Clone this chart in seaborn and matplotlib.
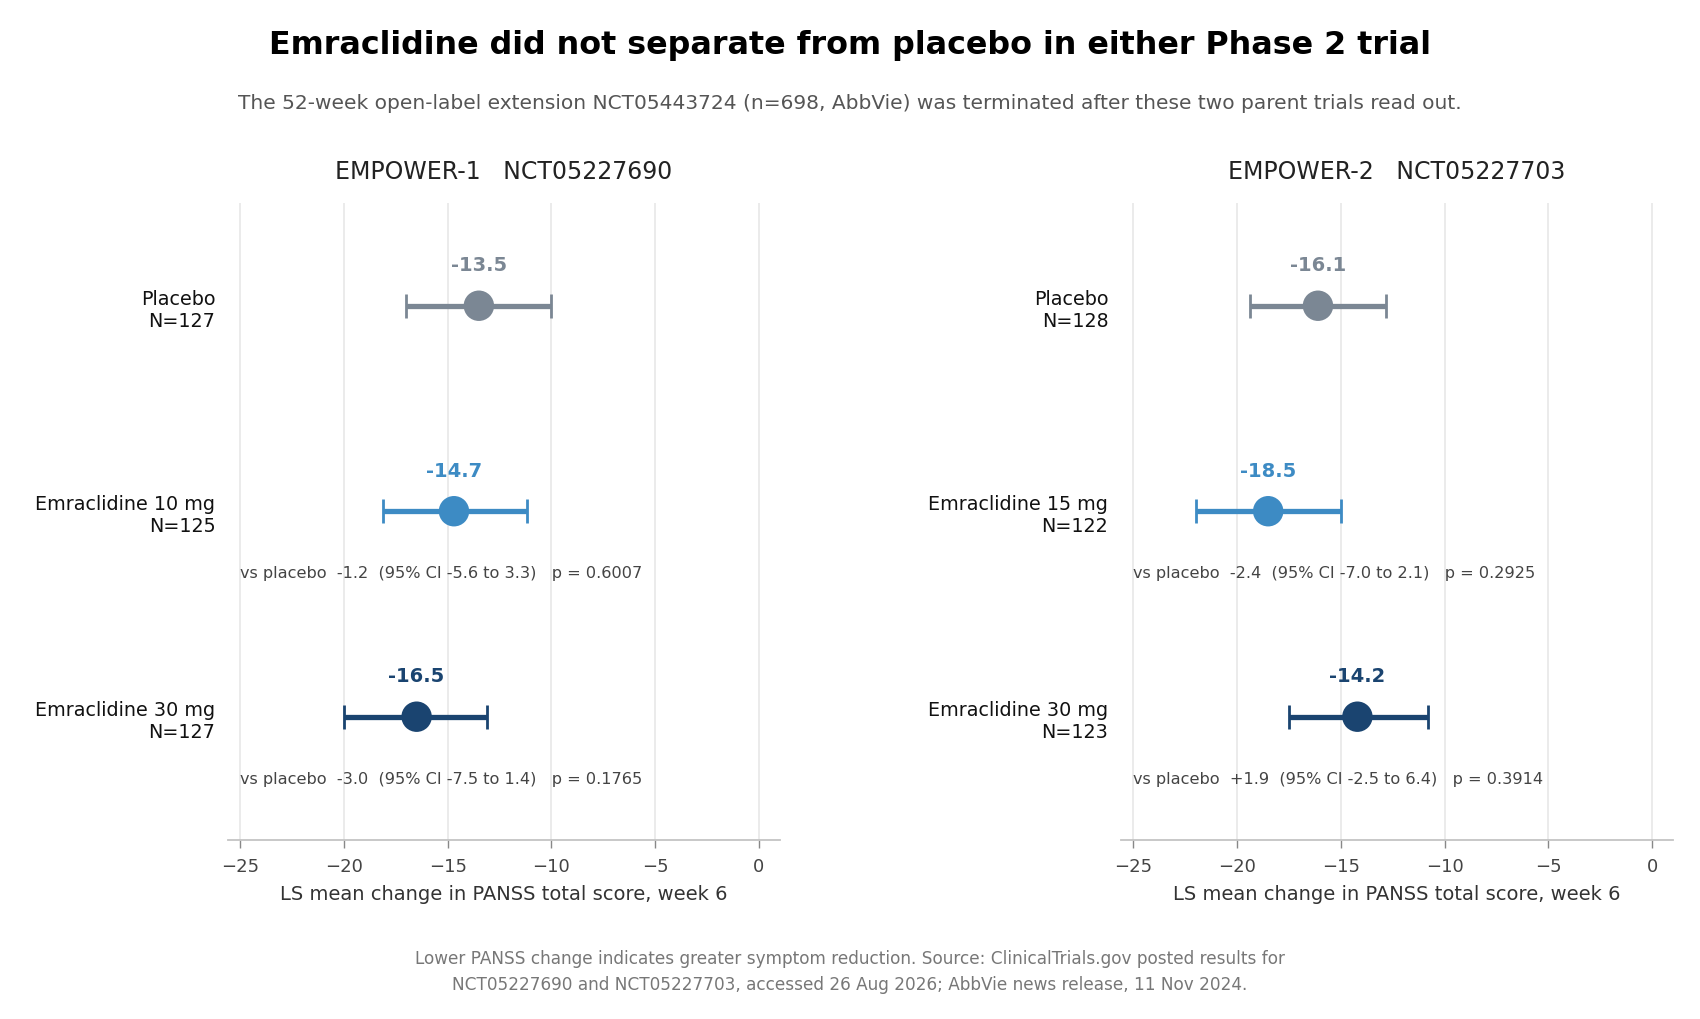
import matplotlib
matplotlib.use("Agg")
import matplotlib.pyplot as plt
import pandas as pd
import seaborn as sns

# Trial metadata
trials = ["EMPOWER-1", "EMPOWER-2"]
nct_ids = ["NCT05227690", "NCT05227703"]

# EMPOWER-1 arms
arms_1 = ["Placebo", "Emraclidine 10 mg", "Emraclidine 30 mg"]
n_1 = [127, 125, 127]
mean_1 = [-13.5, -14.7, -16.5]
ci_lo_1 = [-17.0, -18.1, -20.0]
ci_hi_1 = [-10.0, -11.2, -13.1]
diff_1 = [-1.2, -3.0]
diff_lo_1 = [-5.6, -7.5]
diff_hi_1 = [3.3, 1.4]
p_1 = ["0.6007", "0.1765"]

# EMPOWER-2 arms
arms_2 = ["Placebo", "Emraclidine 15 mg", "Emraclidine 30 mg"]
n_2 = [128, 122, 123]
mean_2 = [-16.1, -18.5, -14.2]
ci_lo_2 = [-19.4, -22.0, -17.5]
ci_hi_2 = [-12.8, -15.0, -10.8]
diff_2 = [-2.4, 1.9]
diff_lo_2 = [-7.0, -2.5]
diff_hi_2 = [2.1, 6.4]
p_2 = ["0.2925", "0.3914"]

arm_colors = ["#7b8794", "#3d8bc4", "#1a4470"]

sns.set_theme(style="whitegrid")
plt.rcParams["font.family"] = ["DejaVu Sans"]

fig, axes = plt.subplots(1, 2, figsize=(17, 10.2), dpi=100)
fig.subplots_adjust(left=0.134, right=0.984, bottom=0.1755, top=0.800, wspace=0.618)

panels = [
    (arms_1, n_1, mean_1, ci_lo_1, ci_hi_1, diff_1, diff_lo_1, diff_hi_1, p_1),
    (arms_2, n_2, mean_2, ci_lo_2, ci_hi_2, diff_2, diff_lo_2, diff_hi_2, p_2),
]

for i, ax in enumerate(axes):
    arms, n, mean, lo, hi, diff, dlo, dhi, pv = panels[i]
    df = pd.DataFrame({"arm": arms, "mean": mean, "lo": lo, "hi": hi, "row": range(len(arms))})

    # confidence intervals
    for j, r in df.iterrows():
        ax.errorbar(r["mean"], r["row"], xerr=[[r["mean"] - r["lo"]], [r["hi"] - r["mean"]]],
                    fmt="none", ecolor=arm_colors[j], elinewidth=3.8, capsize=8.5,
                    capthick=2, zorder=2)

    sns.scatterplot(data=df, x="mean", y="row", hue="arm", palette=arm_colors,
                    s=480, edgecolor="none", legend=False, ax=ax, zorder=3)

    # value labels
    for j, r in df.iterrows():
        ax.text(r["mean"], r["row"] - 0.2, f"{r['mean']:.1f}", ha="center", va="center",
                fontsize=14, fontweight="bold", color=arm_colors[j])

    # comparison vs placebo
    for k in range(len(diff)):
        txt = (f"vs placebo  {diff[k]:+.1f}  (95% CI {dlo[k]:.1f} to {dhi[k]:.1f})   "
               f"p = {pv[k]}")
        if diff[k] < 0:
            txt = txt.replace("+", "")
        ax.text(-25, k + 1 + 0.3, txt, ha="left", va="center", fontsize=11.6, color="#444444")

    ax.set_xlim(-25.6, 1.0)
    ax.set_ylim(2.6, -0.5)
    ax.set_xticks([-25, -20, -15, -10, -5, 0])
    ax.set_yticks(range(len(arms)))
    ax.set_yticklabels([f"{a}\nN={m}" for a, m in zip(arms, n)], fontsize=13.8,
                       color="#111111", ha="right")
    ax.grid(axis="y", visible=False)
    ax.grid(axis="x", color="#ebebeb", linewidth=1.4)
    ax.set_facecolor("white")
    for side in ["top", "right", "left"]:
        ax.spines[side].set_visible(False)
    ax.spines["bottom"].set_color("#c4c4c4")
    ax.spines["bottom"].set_linewidth(1.3)
    ax.tick_params(axis="x", bottom=True, length=6, width=1, color="#888888",
                   labelsize=13, labelcolor="#444444", pad=6)
    ax.tick_params(axis="y", left=False, length=0, pad=9)
    ax.set_xlabel("LS mean change in PANSS total score, week 6", fontsize=14,
                  color="#333333", labelpad=7)
    ax.set_ylabel("")
    ax.set_title(f"{trials[i]}   {nct_ids[i]}", fontsize=17, color="#222222", pad=18)

fig.text(0.5, 0.955, "Emraclidine did not separate from placebo in either Phase 2 trial",
         ha="center", va="center", fontsize=22.9, fontweight="bold", color="black")
fig.text(0.5, 0.899,
         "The 52-week open-label extension NCT05443724 (n=698, AbbVie) was terminated "
         "after these two parent trials read out.",
         ha="center", va="center", fontsize=14.5, color="#555555")
fig.text(0.5, 0.047,
         "Lower PANSS change indicates greater symptom reduction. Source: ClinicalTrials.gov "
         "posted results for\nNCT05227690 and NCT05227703, accessed 26 Aug 2026; "
         "AbbVie news release, 11 Nov 2024.",
         ha="center", va="center", fontsize=12.2, color="#777777", linespacing=1.55)

fig.savefig("out.png", dpi=100, facecolor="white")
